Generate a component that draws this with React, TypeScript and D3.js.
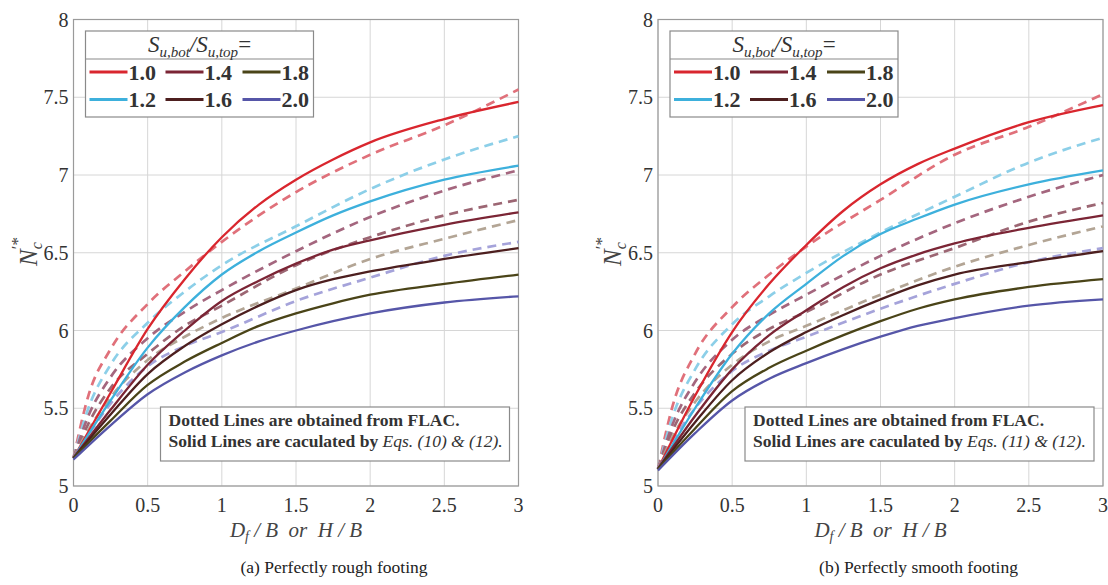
import React from "react";
import * as d3 from "d3";

// S_u,bot / S_u,top ratios shown in the legend
const ratios = ["1.0", "1.2", "1.4", "1.6", "1.8", "2.0"];
const solidColors = ["#d9262e", "#3db0dc", "#7b2535", "#4d1f1f", "#4a4418", "#5656a8"];
const dashedColors = ["#e0707a", "#8ccfe8", "#a4667e", "#9c6673", "#b3a595", "#a5a3da"];

const xTicks = [0, 0.5, 1, 1.5, 2, 2.5, 3];
const yTicks = [5, 5.5, 6, 6.5, 7, 7.5, 8];

// x positions of the curves (D_f/B or H/B)
const solidX = [0, 0.25, 0.5, 0.75, 1, 1.25, 1.5, 1.75, 2, 2.5, 3];
const dashedX = [0, 0.1, 0.25, 0.5, 0.75, 1, 1.5, 2, 2.5, 3];

// (a) perfectly rough footing
const roughSolid = [
  [5.18, 5.6, 6.01, 6.33, 6.6, 6.81, 6.97, 7.1, 7.21, 7.36, 7.47],
  [5.18, 5.55, 5.89, 6.15, 6.36, 6.51, 6.63, 6.74, 6.83, 6.97, 7.06],
  [5.18, 5.49, 5.78, 6.0, 6.19, 6.32, 6.43, 6.52, 6.58, 6.68, 6.76],
  [5.18, 5.46, 5.72, 5.9, 6.04, 6.16, 6.26, 6.33, 6.38, 6.46, 6.53],
  [5.18, 5.42, 5.65, 5.8, 5.92, 6.03, 6.11, 6.175, 6.23, 6.3, 6.36],
  [5.17, 5.39, 5.59, 5.73, 5.84, 5.93, 6.0, 6.06, 6.11, 6.18, 6.22],
];
const roughDashed = [
  [5.18, 5.58, 5.88, 6.17, 6.38, 6.57, 6.89, 7.13, 7.32, 7.55],
  [5.18, 5.5, 5.78, 6.05, 6.25, 6.42, 6.67, 6.91, 7.1, 7.25],
  [5.18, 5.45, 5.7, 5.95, 6.12, 6.26, 6.51, 6.73, 6.9, 7.03],
  [5.18, 5.4, 5.63, 5.85, 6.03, 6.16, 6.42, 6.6, 6.74, 6.84],
  [5.18, 5.36, 5.57, 5.81, 5.96, 6.08, 6.27, 6.46, 6.59, 6.71],
  [5.18, 5.33, 5.53, 5.77, 5.9, 5.99, 6.19, 6.34, 6.48, 6.57],
];

// (b) perfectly smooth footing
const smoothSolid = [
  [5.11, 5.58, 5.99, 6.3, 6.55, 6.77, 6.94, 7.07, 7.17, 7.34, 7.45],
  [5.11, 5.5, 5.85, 6.11, 6.3, 6.48, 6.62, 6.72, 6.81, 6.94, 7.03],
  [5.11, 5.45, 5.75, 5.97, 6.13, 6.28, 6.4, 6.49, 6.56, 6.66, 6.74],
  [5.11, 5.41, 5.68, 5.86, 5.99, 6.1, 6.2, 6.29, 6.36, 6.44, 6.51],
  [5.11, 5.37, 5.61, 5.76, 5.87, 5.97, 6.06, 6.14, 6.2, 6.28, 6.33],
  [5.1, 5.34, 5.55, 5.69, 5.79, 5.88, 5.96, 6.03, 6.08, 6.16, 6.2],
];
const smoothDashed = [
  [5.11, 5.52, 5.85, 6.15, 6.36, 6.54, 6.84, 7.13, 7.31, 7.52],
  [5.11, 5.45, 5.75, 6.04, 6.22, 6.37, 6.63, 6.86, 7.08, 7.24],
  [5.11, 5.4, 5.67, 5.94, 6.1, 6.23, 6.48, 6.69, 6.86, 7.0],
  [5.11, 5.36, 5.6, 5.85, 6.01, 6.12, 6.36, 6.53, 6.7, 6.82],
  [5.11, 5.32, 5.54, 5.78, 5.93, 6.03, 6.23, 6.41, 6.55, 6.67],
  [5.11, 5.29, 5.5, 5.74, 5.87, 5.96, 6.14, 6.3, 6.44, 6.53],
];

const serif = "'Liberation Serif', 'Times New Roman', serif";
const nb = "\u00a0";

function Panel({ left, solid, dashed, eqs, caption }) {
  const top = 19.5;
  const bottom = 486;
  const width = 445;
  const x = d3.scaleLinear().domain([0, 3]).range([left, left + width]);
  const y = d3.scaleLinear().domain([5, 8]).range([bottom, top]);
  const line = d3
    .line<number>()
    .x((d, i) => x(solidX[i]))
    .y((d) => y(d))
    .curve(d3.curveMonotoneX);
  const dline = d3
    .line<number>()
    .x((d, i) => x(dashedX[i]))
    .y((d) => y(d))
    .curve(d3.curveMonotoneX);

  // legend box
  const lx = left + 12;
  const ly = 31;
  const lw = 228;
  const cols = [4, 80, 157];

  // note box
  const bx = left + 87;
  const by = 407;

  return (
    <g fontFamily={serif}>
      {/* grid */}
      {xTicks.map((t) => (
        <line key={"gx" + t} x1={x(t)} x2={x(t)} y1={top} y2={bottom} stroke="#d6d6d6" />
      ))}
      {yTicks.map((t) => (
        <line key={"gy" + t} x1={left} x2={left + width} y1={y(t)} y2={y(t)} stroke="#d6d6d6" />
      ))}
      <rect x={left} y={top} width={width} height={bottom - top} fill="none" stroke="#9a9a9a" strokeWidth={1.2} />

      {/* FLAC (dashed) */}
      {dashed.map((s, i) => (
        <path key={"d" + i} d={dline(s)} fill="none" stroke={dashedColors[i]} strokeWidth={2.7} strokeDasharray="9,6" />
      ))}
      {/* equations (solid) */}
      {solid.map((s, i) => (
        <path key={"s" + i} d={line(s)} fill="none" stroke={solidColors[i]} strokeWidth={2.3} />
      ))}

      {/* ticks */}
      {yTicks.map((t) => (
        <text key={"ty" + t} x={left - 5} y={y(t)} dy="0.35em" textAnchor="end" fontSize={20} fill="#333">
          {String(t)}
        </text>
      ))}
      {xTicks.map((t) => (
        <text key={"tx" + t} x={x(t)} y={bottom + 26} textAnchor="middle" fontSize={20} fill="#333">
          {String(t)}
        </text>
      ))}

      {/* axis labels */}
      <text x={left + width / 2} y={537} textAnchor="middle" fontSize={21} fontStyle="italic" fill="#444">
        D<tspan fontSize={14} dy={4}>f</tspan>
        <tspan dy={-4}>{`${nb}/${nb}B${nb}${nb}or${nb}${nb}H${nb}/${nb}B`}</tspan>
      </text>
      <text transform={`translate(${left - 37},266) rotate(-90)`} fontSize={25} fill="#444" fontStyle="italic">
        N<tspan fontSize={16} dy={5}>c</tspan>
        <tspan fontSize={17} dx={-7} dy={-19} fontStyle="normal">{"′*"}</tspan>
      </text>

      {/* legend */}
      <rect x={lx} y={ly} width={lw} height={86} fill="#fff" stroke="#8a8a8a" strokeWidth={1.2} />
      <line x1={lx} x2={lx + lw} y1={ly + 28} y2={ly + 28} stroke="#8a8a8a" strokeWidth={1.2} />
      <text x={lx + lw / 2} y={ly + 21} textAnchor="middle" fontSize={23} fontStyle="italic" fill="#333">
        S<tspan fontSize={15} dy={5}>u,bot</tspan>
        <tspan dy={-5}>/S</tspan>
        <tspan fontSize={15} dy={5}>u,top</tspan>
        <tspan dy={-5} fontStyle="normal">=</tspan>
      </text>
      {ratios.map((r, i) => {
        const cx = lx + cols[Math.floor(i / 2)];
        const cy = ly + (i % 2 === 0 ? 41 : 68.5);
        return (
          <g key={"lg" + r}>
            <line x1={cx} x2={cx + 38} y1={cy} y2={cy} stroke={solidColors[i]} strokeWidth={3} />
            <text x={cx + 39} y={cy + 7.5} fontSize={22} fontWeight="bold" fill="#333">
              {r}
            </text>
          </g>
        );
      })}

      {/* note */}
      <rect x={bx} y={by} width={349} height={54} fill="#fff" stroke="#8a8a8a" strokeWidth={1.2} />
      <text x={bx + 8} y={by + 19} fontSize={17.5} fontWeight="bold" fill="#333">
        Dotted Lines are obtained from FLAC.
      </text>
      <text x={bx + 8} y={by + 40} fontSize={17.5} fontWeight="bold" fill="#333">
        {"Solid Lines are caculated by "}
        <tspan fontStyle="italic" fontWeight="normal">{eqs}</tspan>
      </text>

      {/* caption */}
      <text x={left + width / 2 + 38} y={573} textAnchor="middle" fontSize={17.5} fill="#222">
        {caption}
      </text>
    </g>
  );
}

export default function App() {
  return (
    <svg width={1108} height={585} style={{ position: "absolute", left: 0, top: 0, background: "#fff" }}>
      <rect width={1108} height={585} fill="#fff" />
      <Panel
        left={73.5}
        solid={roughSolid}
        dashed={roughDashed}
        eqs="Eqs. (10) & (12)."
        caption="(a) Perfectly rough footing"
      />
      <Panel
        left={658}
        solid={smoothSolid}
        dashed={smoothDashed}
        eqs="Eqs. (11) & (12)."
        caption="(b) Perfectly smooth footing"
      />
    </svg>
  );
}
